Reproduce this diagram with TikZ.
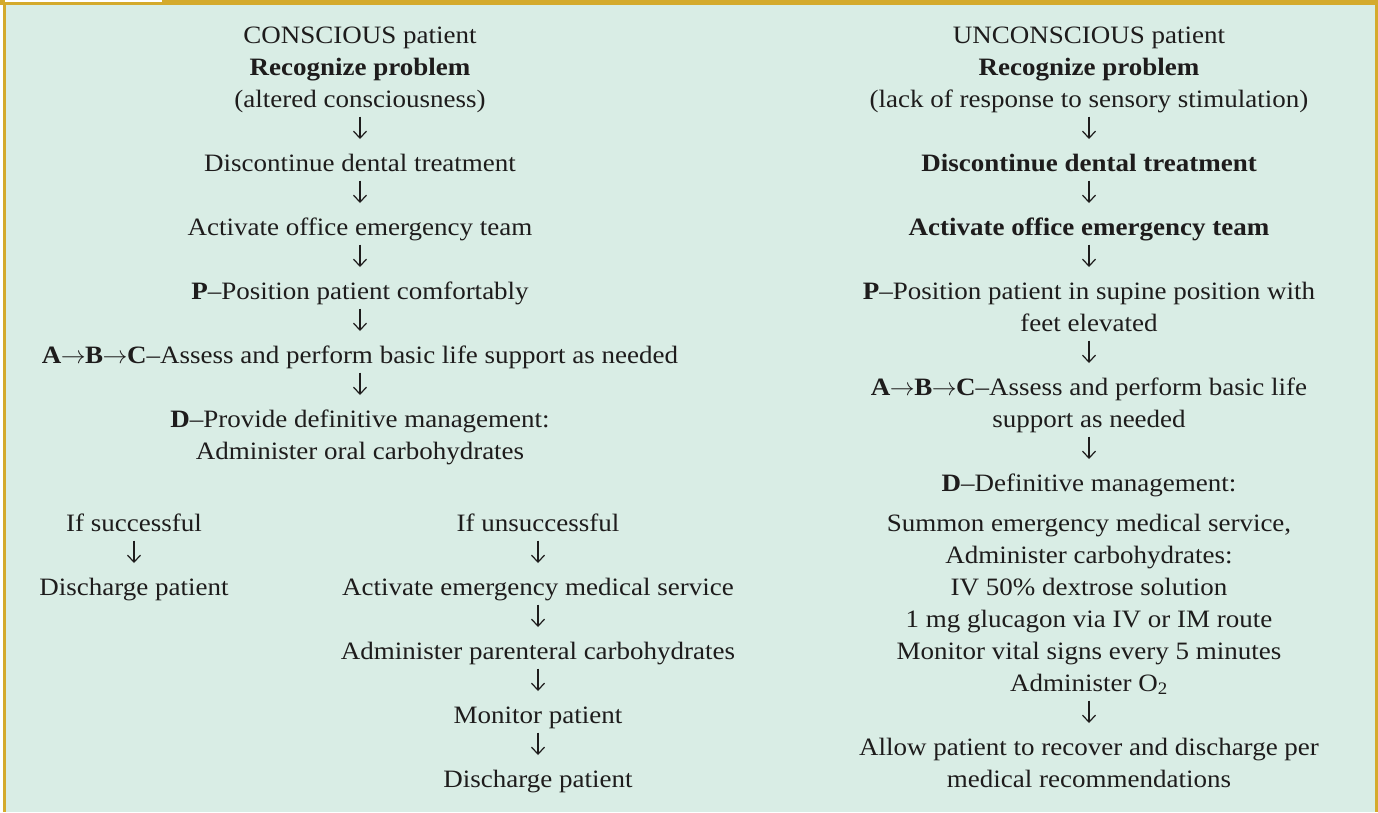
\documentclass[tikz,border=0pt]{standalone}
\usepackage{fontspec}
\setmainfont{Liberation Serif}[FakeStretch=1.08]
\usetikzlibrary{arrows.meta}

\definecolor{panelgreen}{RGB}{217,237,229}
\definecolor{framegold}{RGB}{212,170,44}
\definecolor{inkgray}{RGB}{30,28,28}

% thin full-width arrow between the bold step letters
\newcommand{\steparrow}{\kern-0.5pt\ensuremath{\rightarrow}\kern-0.5pt}

\begin{document}
\begin{tikzpicture}[x=1pt,y=-1pt,
  every node/.style={inner sep=0pt, outer sep=0pt, text=inkgray,
    font=\fontsize{25}{32}\selectfont, align=center, anchor=north},
  flow/.style={draw=inkgray, line width=1.2pt,
    -{Straight Barb[length=7pt,width=13pt,line width=1.2pt]},
    shorten >=9.6pt},
]
\useasboundingbox (0,0) rectangle (1378,812);

% panel with gold frame and tab
\fill[white] (0,0) rectangle (1378,812);
\fill[framegold] (0,0) rectangle (1378,4.7);
\fill[framegold] (3,0) rectangle (6,812);
\fill[framegold] (1375,0) rectangle (1378,812);
\fill[panelgreen] (6,4.7) rectangle (1375,812);
\fill[white] (5,0) rectangle (162,2);

% conscious patient
\node (c-head) at (360,20.6) {\strut CONSCIOUS patient\\\strut\textbf{Recognize problem}\\\strut(altered consciousness)};
\node (c-stop) at (360,148.6) {\strut Discontinue dental treatment};
\node (c-team) at (360,212.6) {\strut Activate office emergency team};
\node (c-pos)  at (360,276.6) {\strut\textbf{P}–Position patient comfortably};
\node (c-abc)  at (360,340.6) {\strut\textbf{A\steparrow B\steparrow C}–Assess and perform basic life support as needed};
\node (c-def)  at (360,404.6) {\strut\textbf{D}–Provide definitive management:\\\strut Administer oral carbohydrates};

\node (c-ok)   at (134,508.6) {\strut If successful};
\node (c-out)  at (134,572.6) {\strut Discharge patient};

\node (c-fail) at (538,508.6) {\strut If unsuccessful};
\node (c-ems)  at (538,572.6) {\strut Activate emergency medical service};
\node (c-iv)   at (538,636.6) {\strut Administer parenteral carbohydrates};
\node (c-mon)  at (538,700.6) {\strut Monitor patient};
\node (c-dis)  at (538,764.6) {\strut Discharge patient};

% unconscious patient
\node (u-head) at (1089,20.6) {\strut UNCONSCIOUS patient\\\strut\textbf{Recognize problem}\\\strut(lack of response to sensory stimulation)};
\node (u-stop) at (1089,148.6) {\strut\textbf{Discontinue dental treatment}};
\node (u-team) at (1089,212.6) {\strut\textbf{Activate office emergency team}};
\node (u-pos)  at (1089,276.6) {\strut\textbf{P}–Position patient in supine position with\\\strut feet elevated};
\node (u-abc)  at (1089,372.6) {\strut\textbf{A\steparrow B\steparrow C}–Assess and perform basic life\\\strut support as needed};
\node (u-def)  at (1089,468.6) {\strut\textbf{D}–Definitive management:};
\node (u-care) at (1089,508.6) {\strut Summon emergency medical service,\\\strut Administer carbohydrates:\\\strut IV 50\% dextrose solution\\\strut 1 mg glucagon via IV or IM route\\\strut Monitor vital signs every 5 minutes\\\strut Administer O\textsubscript{2}};
\node (u-rec)  at (1089,732.6) {\strut Allow patient to recover and discharge per\\\strut medical recommendations};

% connectors
\foreach \a/\b in {c-head/c-stop, c-stop/c-team, c-team/c-pos, c-pos/c-abc, c-abc/c-def,
                   c-ok/c-out, c-fail/c-ems, c-ems/c-iv, c-iv/c-mon, c-mon/c-dis,
                   u-head/u-stop, u-stop/u-team, u-team/u-pos, u-pos/u-abc, u-abc/u-def,
                   u-care/u-rec}
  \draw[flow] (\a.south) -- (\b.north);
\end{tikzpicture}
\end{document}
